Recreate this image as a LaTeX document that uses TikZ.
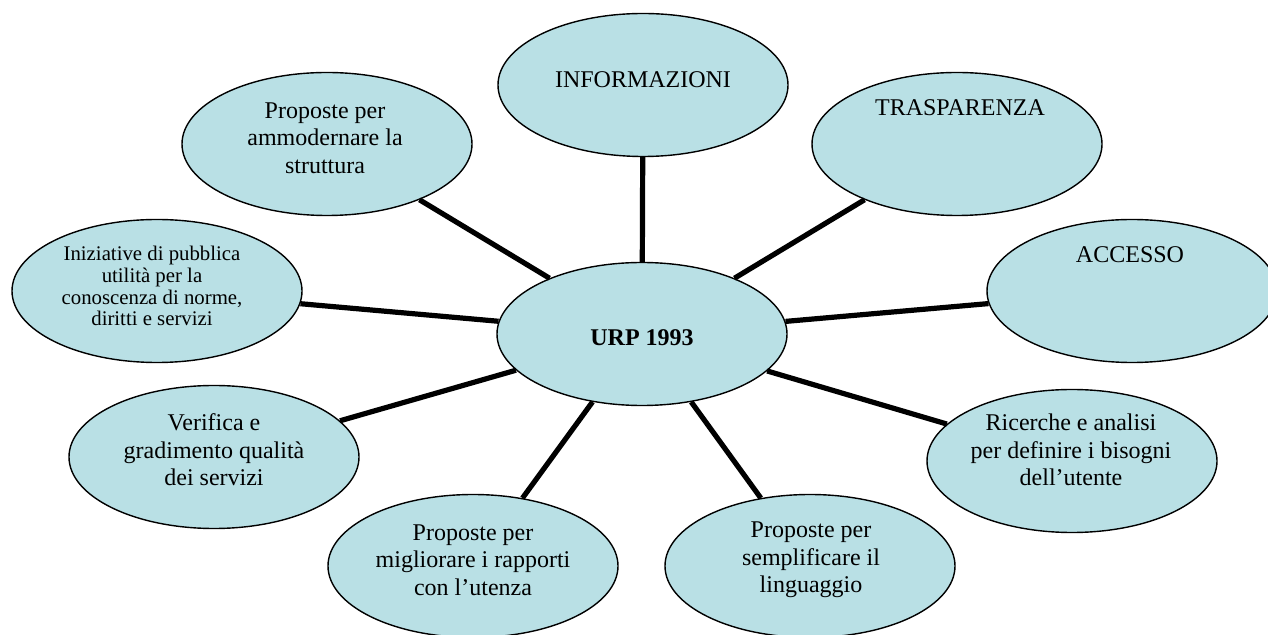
\documentclass[tikz,border=0pt]{standalone}
\usepackage{fontspec}
\setmainfont{Liberation Serif}
\usepackage{tikz}
\usetikzlibrary{shapes.geometric}

\definecolor{urpblue}{RGB}{185,224,229}

\tikzset{
  bubble/.style={ellipse, draw, line width=0.7pt, fill=urpblue,
    minimum width=145pt, minimum height=71.5pt, inner sep=0pt},
  spoke/.style={line width=2.6pt},
  txt/.style={align=center, font=\fontsize{12}{13.8}\selectfont},
  smalltxt/.style={align=center, font=\fontsize{10.4}{10.9}\selectfont}
}

\begin{document}
\begin{tikzpicture}[x=0.5pt, y=-0.5pt]
        \useasboundingbox (0,0) rectangle (1268,635);
        \clip (0,0) rectangle (1268,635);

        % bubbles
        \node[bubble] (urp)   at (642, 334) {};
        \node[bubble] (info)  at (643, 85)  {};
        \node[bubble] (tras)  at (957, 144) {};
        \node[bubble] (acc)   at (1132, 291) {};
        \node[bubble] (ric)   at (1072, 461) {};
        \node[bubble] (sempl) at (810, 566) {};
        \node[bubble] (migl)  at (473, 566) {};
        \node[bubble] (verif) at (214, 457) {};
        \node[bubble] (iniz)  at (157, 291) {};
        \node[bubble] (ammo)  at (327, 144) {};

        % spokes
        \foreach \n in {info, tras, acc, ric, sempl, migl, verif, iniz, ammo}
            \draw[spoke] (urp) -- (\n);

        % texts
        \node[txt] (urp-t) at (642, 338) {\textbf{URP 1993}};
        \node[txt] (info-t) at (643, 80) {INFORMAZIONI};
        \node[txt] (tras-t) at (960, 108) {TRASPARENZA};
        \node[txt] (acc-t) at (1130, 255) {ACCESSO};
        \node[txt] (ric-t) at (1071, 450) {Ricerche e analisi\\per definire i bisogni\\dell’utente};
        \node[txt] (sempl-t) at (811, 560) {Proposte per\\semplificare il\\linguaggio};
        \node[txt] (migl-t) at (473, 560) {Proposte per\\migliorare i rapporti\\con l’utenza};
        \node[txt] (verif-t) at (214, 450) {Verifica e\\gradimento qualità\\dei servizi};
        \node[smalltxt] (iniz-t) at (152, 286) {Iniziative di pubblica\\utilità per la\\conoscenza di norme,\\diritti e servizi};
        \node[txt] (ammo-t) at (325, 138) {Proposte per\\ammodernare la\\struttura};
\end{tikzpicture}
\end{document}
